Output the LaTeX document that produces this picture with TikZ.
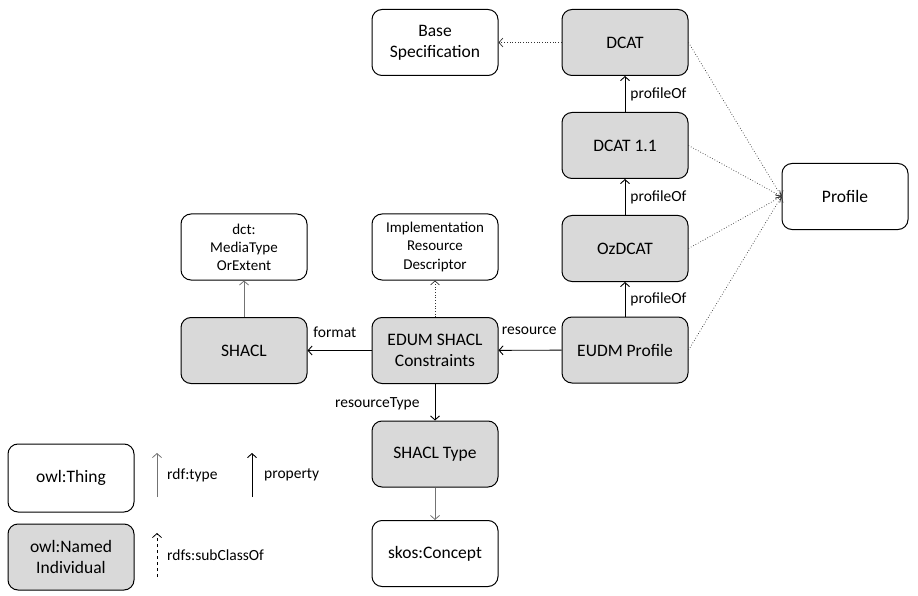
\documentclass[tikz,border=0pt]{standalone}
\usepackage{fontspec}
\setmainfont{Carlito}
\usetikzlibrary{arrows.meta}
\definecolor{ind}{HTML}{D9D9D9}
\begin{document}
\begin{tikzpicture}[x=1pt,y=-1pt,
  box/.style={draw=black, line width=1pt, rounded corners=10pt, minimum width=126pt, minimum height=66pt, align=center, font=\fontsize{17.5}{21}\selectfont, inner sep=2pt},
  sbox/.style={box, font=\fontsize{15}{18}\selectfont},
  indiv/.style={box, fill=ind},
  prop/.style={draw=black, line width=0.9pt, -{Straight Barb[length=4pt,width=9pt]}},
  typ/.style={draw=black!55, line width=0.8pt, -{Straight Barb[length=4pt,width=9pt]}},
  dot/.style={draw=black!80, line width=0.7pt, dotted, -{Straight Barb[length=4pt,width=9pt]}},
  sub/.style={draw=black, line width=0.8pt, dashed, -{Straight Barb[length=4pt,width=9pt]}},
  lab/.style={font=\fontsize{15.5}{18}\selectfont, inner sep=1pt}
]
\useasboundingbox (0,0) rectangle (918,596);
% nodes
\node[box] (base) at (435,42.5) {Base\\Specification};
\node[indiv] (dcat) at (625,42.5) {DCAT};
\node[indiv] (dcat11) at (625,145.5) {DCAT 1.1};
\node[indiv] (oz) at (625,248.5) {OzDCAT};
\node[indiv] (eudm) at (625,350) {EUDM Profile};
\node[box] (profile) at (845,196.5) {Profile};
\node[sbox] (dct) at (244,247) {dct:\\MediaType\\OrExtent};
\node[sbox] (impl) at (435,247) {Implementation\\Resource\\Descriptor};
\node[indiv] (shacl) at (244,350.5) {SHACL};
\node[indiv] (edum) at (435,350.5) {EDUM SHACL\\Constraints};
\node[indiv] (stype) at (435,454) {SHACL Type};
\node[box] (skos) at (435,553.5) {skos:Concept};
\node[box, minimum height=68pt] (thing) at (71,478) {owl:Thing};
\node[indiv] (named) at (71,557) {owl:Named\\Individual};
% connectors
\draw[dot] (dcat) -- (base);
\draw[prop] (dcat11) -- node[lab, anchor=west, pos=0.5, xshift=4pt] {profileOf} (dcat);
\draw[prop] (oz) -- node[lab, anchor=west, pos=0.5, xshift=4pt] {profileOf} (dcat11);
\draw[prop] (eudm) -- node[lab, anchor=west, pos=0.5, xshift=4pt] {profileOf} (oz);
\draw[dot] (dcat.east) -- (profile.west);
\draw[dot] (dcat11.east) -- (profile.west);
\draw[dot] (oz.east) -- (profile.west);
\draw[dot] (eudm.east) -- (profile.west);
\draw[prop] (eudm) -- node[lab, anchor=south west, pos=0.97, yshift=14pt] {resource} (edum);
\draw[prop] (edum) -- node[lab, anchor=south west, pos=0.93, yshift=11pt] {format} (shacl);
\draw[dot] (edum) -- (impl);
\draw[typ] (shacl) -- (dct);
\draw[prop] (edum) -- node[lab, anchor=east, pos=0.55, xshift=-14pt] {resourceType} (stype);
\draw[typ] (stype) -- (skos);
% legend
\coordinate (l1a) at (157,497); \coordinate (l1b) at (157,453);
\coordinate (l2a) at (252,497); \coordinate (l2b) at (252,453);
\coordinate (l3a) at (157,577); \coordinate (l3b) at (157,533);
\draw[typ] (l1a) -- (l1b);
\draw[prop] (l2a) -- (l2b);
\draw[sub] (l3a) -- (l3b);
\node[lab, anchor=west] (t1) at (166,475) {rdf:type};
\node[lab, anchor=west] (t2) at (263,475) {property};
\node[lab, anchor=west] (t3) at (166,555) {rdfs:subClassOf};
\end{tikzpicture}
\end{document}
